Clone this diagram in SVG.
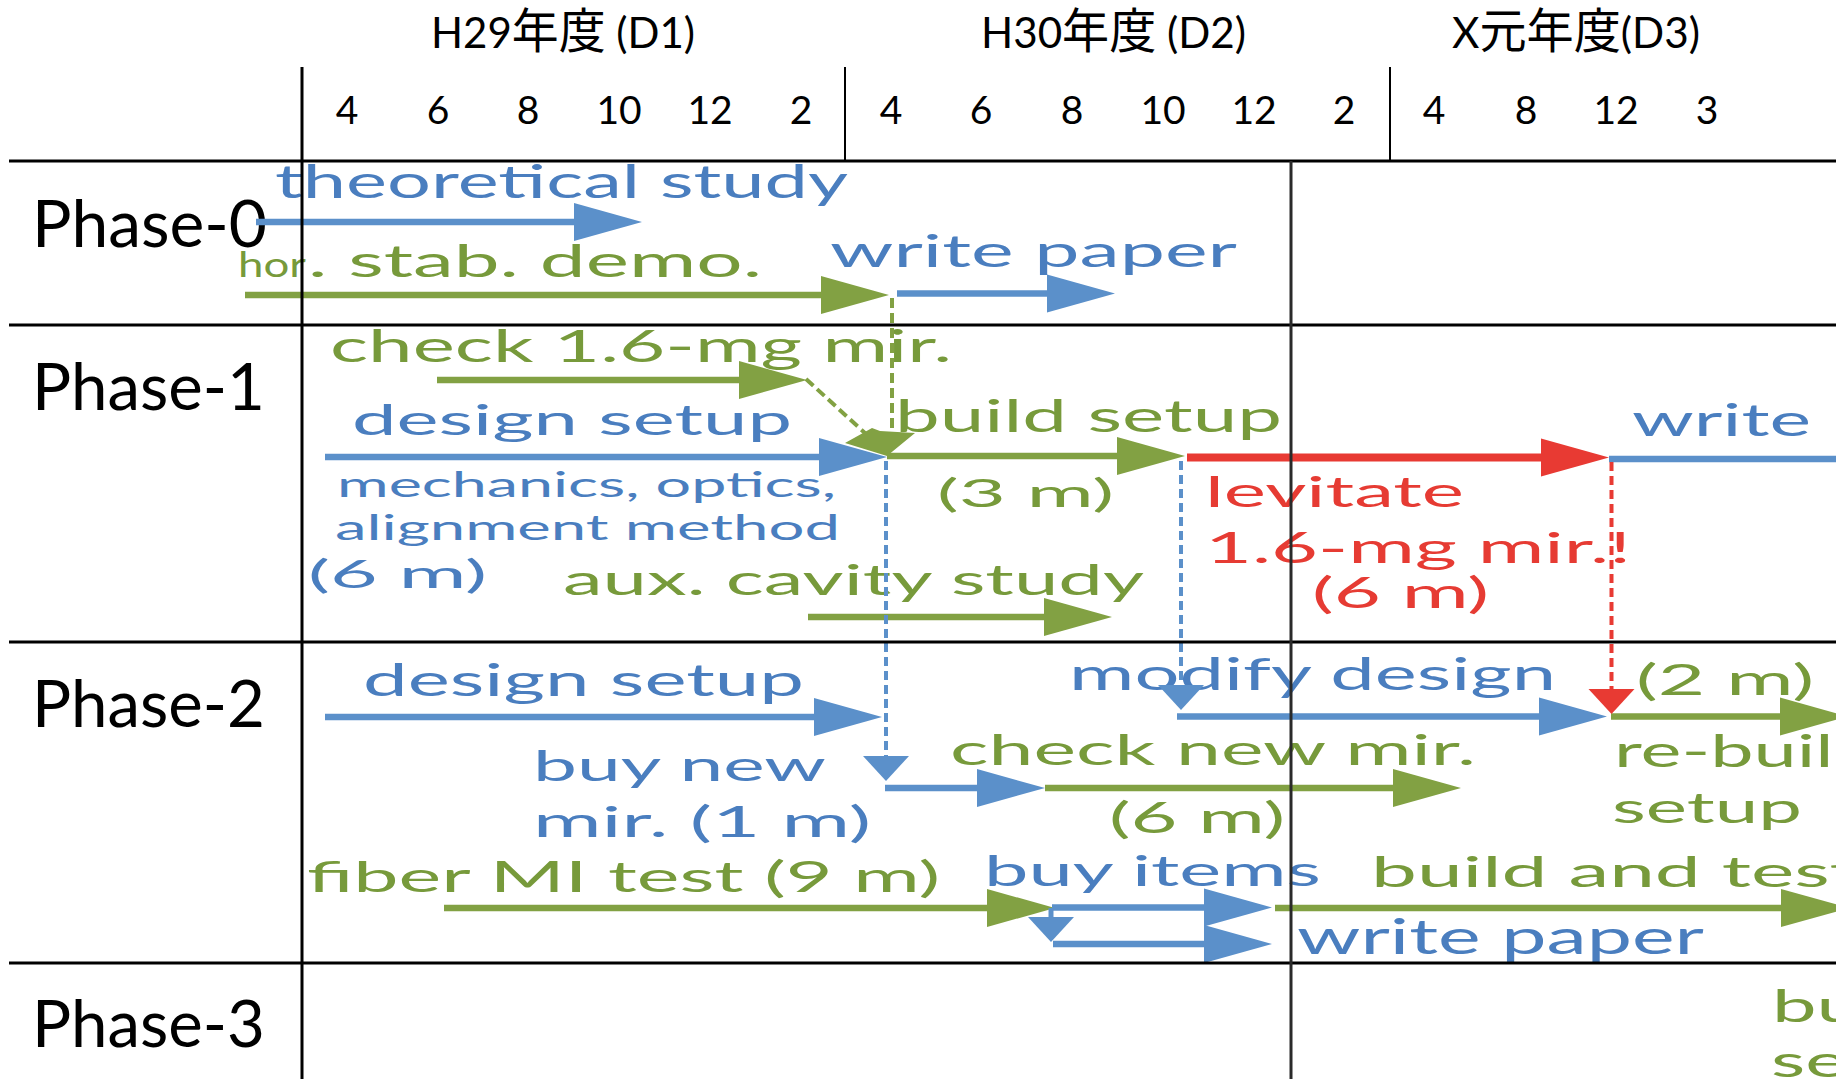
<svg xmlns="http://www.w3.org/2000/svg" width="1836" height="1079" viewBox="0 0 1836 1079">
<defs>
<style>
  .t{font-family:Lato,"Noto Sans","Noto Sans CJK JP",sans-serif}
  .k{fill:#000}
  .tb{fill:#4A7EBF}
  .tg{fill:#779A3B}
  .tr{fill:#E63B33}
  .ph{font-size:66px}
  .mo{font-size:39px;text-anchor:middle}
  .hd{font-size:43px}
  .cj{font-size:48px}
  .ln{fill:none;stroke-width:6.5}
  .sb{stroke:#5B90CA}
  .sg{stroke:#82A143}
  .sr{stroke:#E83A33}
  .dash{fill:none;stroke-width:4;stroke-dasharray:9 5}
  .grid{fill:none;stroke:#000}
</style>
<!-- large arrowheads: tip sits 66px past the path end -->
<marker id="hB" markerUnits="userSpaceOnUse" markerWidth="68" markerHeight="38" refX="2" refY="19" orient="auto" overflow="visible"><path d="M0,0 L68,19 L0,38 z" fill="#5B90CA"/></marker>
<marker id="hG" markerUnits="userSpaceOnUse" markerWidth="68" markerHeight="38" refX="2" refY="19" orient="auto" overflow="visible"><path d="M0,0 L68,19 L0,38 z" fill="#82A143"/></marker>
<marker id="hR" markerUnits="userSpaceOnUse" markerWidth="68" markerHeight="38" refX="2" refY="19" orient="auto" overflow="visible"><path d="M0,0 L68,19 L0,38 z" fill="#E83A33"/></marker>
<!-- short wide arrowheads for the drop-down links: tip 24px past the path end -->
<marker id="sB" markerUnits="userSpaceOnUse" markerWidth="25" markerHeight="46" refX="1" refY="23" orient="auto" overflow="visible"><path d="M0,0 L25,23 L0,46 z" fill="#5B90CA"/></marker>
<marker id="sR" markerUnits="userSpaceOnUse" markerWidth="25" markerHeight="46" refX="1" refY="23" orient="auto" overflow="visible"><path d="M0,0 L25,23 L0,46 z" fill="#E83A33"/></marker>
</defs>

<rect width="1836" height="1079" fill="#fff"/>

<!-- fiscal-year header -->
<g id="header" class="t k">
  <text class="hd" x="431" y="48" textLength="264" lengthAdjust="spacingAndGlyphs">H29<tspan class="cj">年度</tspan> (D1)</text>
  <text class="hd" x="981" y="48" textLength="265" lengthAdjust="spacingAndGlyphs">H30<tspan class="cj">年度</tspan> (D2)</text>
  <text class="hd" x="1452" y="48" textLength="248" lengthAdjust="spacingAndGlyphs">X<tspan class="cj">元年度</tspan>(D3)</text>
</g>

<!-- month ticks -->
<g id="months" class="t k mo">
  <text x="347" y="124">4</text>
  <text x="438" y="124">6</text>
  <text x="528" y="124">8</text>
  <text x="619" y="124">10</text>
  <text x="710" y="124">12</text>
  <text x="801" y="124">2</text>
  <text x="891" y="124">4</text>
  <text x="981" y="124">6</text>
  <text x="1072" y="124">8</text>
  <text x="1163" y="124">10</text>
  <text x="1254" y="124">12</text>
  <text x="1344" y="124">2</text>
  <text x="1434" y="124">4</text>
  <text x="1526" y="124">8</text>
  <text x="1616" y="124">12</text>
  <text x="1707" y="124">3</text>
</g>

<!-- phase row labels -->
<g id="phases" class="t k ph">
  <text x="32" y="247" textLength="235" lengthAdjust="spacingAndGlyphs">Phase-0</text>
  <text x="32" y="410" textLength="233" lengthAdjust="spacingAndGlyphs">Phase-1</text>
  <text x="32" y="727" textLength="233" lengthAdjust="spacingAndGlyphs">Phase-2</text>
  <text x="32" y="1047" textLength="233" lengthAdjust="spacingAndGlyphs">Phase-3</text>
</g>

<!-- task labels, phase 0 -->
<g id="task-theoretical-study" class="t tb"><text x="275" y="198" font-size="47" textLength="573" lengthAdjust="spacingAndGlyphs">theoretical study</text></g>
<g id="task-hor-stab-demo" class="t tg"><text y="277"><tspan x="238" font-size="34" textLength="68" lengthAdjust="spacingAndGlyphs">hor</tspan><tspan x="308" font-size="44" textLength="454" lengthAdjust="spacingAndGlyphs">. stab. demo.</tspan></text></g>
<g id="task-write-paper-0" class="t tb"><text x="830" y="267" font-size="44" textLength="407" lengthAdjust="spacingAndGlyphs">write paper</text></g>

<!-- task labels, phase 1 -->
<g id="task-check-mirror" class="t tg"><text x="330" y="362" font-size="44" textLength="622" lengthAdjust="spacingAndGlyphs">check 1.6-mg mir.</text></g>
<g id="task-design-setup-1" class="t tb">
  <text x="352" y="435" font-size="43" textLength="440" lengthAdjust="spacingAndGlyphs">design setup</text>
  <text x="337" y="497" font-size="34" textLength="499" lengthAdjust="spacingAndGlyphs">mechanics, optics,</text>
  <text x="335" y="540" font-size="34" textLength="505" lengthAdjust="spacingAndGlyphs">alignment method</text>
  <text x="308" y="588" font-size="39" textLength="179" lengthAdjust="spacingAndGlyphs">(6 m)</text>
</g>
<g id="task-aux-cavity" class="t tg"><text x="563" y="595" font-size="43" textLength="581" lengthAdjust="spacingAndGlyphs">aux. cavity study</text></g>
<g id="task-build-setup" class="t tg">
  <text x="895" y="432" font-size="44" textLength="387" lengthAdjust="spacingAndGlyphs">build setup</text>
  <text x="937" y="507" font-size="38" textLength="177" lengthAdjust="spacingAndGlyphs">(3 m)</text>
</g>
<g id="task-levitate" class="t tr">
  <text x="1205" y="507" font-size="42" textLength="259" lengthAdjust="spacingAndGlyphs">levitate</text>
  <text x="1205" y="563" font-size="42" textLength="426" lengthAdjust="spacingAndGlyphs">1.6-mg mir.!</text>
  <text x="1312" y="608" font-size="42" textLength="177" lengthAdjust="spacingAndGlyphs">(6 m)</text>
</g>
<g id="task-write-1" class="t tb"><text x="1632" y="436" font-size="44" textLength="179" lengthAdjust="spacingAndGlyphs">write</text></g>

<!-- task labels, phase 2 -->
<g id="task-design-setup-2" class="t tb"><text x="363" y="696" font-size="44" textLength="441" lengthAdjust="spacingAndGlyphs">design setup</text></g>
<g id="task-buy-mirror" class="t tb">
  <text x="533" y="781" font-size="43" textLength="293" lengthAdjust="spacingAndGlyphs">buy new</text>
  <text x="533" y="837" font-size="42" textLength="338" lengthAdjust="spacingAndGlyphs">mir. (1 m)</text>
</g>
<g id="task-check-new-mirror" class="t tg">
  <text x="950" y="765" font-size="43" textLength="526" lengthAdjust="spacingAndGlyphs">check new mir.</text>
  <text x="1109" y="833" font-size="42" textLength="176" lengthAdjust="spacingAndGlyphs">(6 m)</text>
</g>
<g id="task-modify-design" class="t tb"><text x="1069" y="690" font-size="44" textLength="487" lengthAdjust="spacingAndGlyphs">modify design</text></g>
<g id="task-rebuild-setup" class="t tg">
  <text x="1636" y="695" font-size="42" textLength="178" lengthAdjust="spacingAndGlyphs">(2 m)</text>
  <text x="1614" y="767" font-size="44" textLength="263" lengthAdjust="spacingAndGlyphs">re-build</text>
  <text x="1612" y="823" font-size="43" textLength="190" lengthAdjust="spacingAndGlyphs">setup</text>
</g>
<g id="task-fiber-mi" class="t tg"><text x="307" y="892" font-size="43" textLength="633" lengthAdjust="spacingAndGlyphs">fiber MI test (9 m)</text></g>
<g id="task-buy-items" class="t tb"><text x="984" y="886" font-size="43" textLength="337" lengthAdjust="spacingAndGlyphs">buy items</text></g>
<g id="task-build-and-test" class="t tg"><text x="1371" y="887" font-size="42" textLength="488" lengthAdjust="spacingAndGlyphs">build and test</text></g>
<g id="task-write-paper-2" class="t tb"><text x="1297" y="954" font-size="48" textLength="407" lengthAdjust="spacingAndGlyphs">write paper</text></g>

<!-- task labels, phase 3 -->
<g id="task-phase3" class="t tg">
  <text x="1772" y="1022" font-size="44" textLength="89" lengthAdjust="spacingAndGlyphs">bu</text>
  <text x="1771" y="1077" font-size="45" textLength="76" lengthAdjust="spacingAndGlyphs">se</text>
</g>

<!-- schedule arrows and dependency links -->
<g id="connectors">
  <path class="ln sb" d="M256,222 H576" marker-end="url(#hB)"/>
  <path class="ln sg" d="M245,295 H823" marker-end="url(#hG)"/>
  <path class="ln sb" d="M897,293.5 H1049" marker-end="url(#hB)"/>
  <path class="ln sg" d="M437,380 H741" marker-end="url(#hG)"/>
  <path class="ln sb" d="M325,457 H821" marker-end="url(#hB)"/>
  <path class="ln sg" d="M887,456 H1119" marker-end="url(#hG)"/>
  <path class="ln sr" style="stroke-width:8" d="M1187,457.5 H1543" marker-end="url(#hR)"/>
  <path class="ln sb" d="M1609,459 H1836"/>
  <path class="ln sg" d="M808,617 H1046" marker-end="url(#hG)"/>
  <path class="ln sb" d="M325,717 H816" marker-end="url(#hB)"/>
  <path class="ln sb" d="M885,788 H979" marker-end="url(#hB)"/>
  <path class="ln sg" d="M1045,788 H1395" marker-end="url(#hG)"/>
  <path class="ln sb" d="M1177,716.5 H1541" marker-end="url(#hB)"/>
  <path class="ln sg" d="M1611,716.5 H1782" marker-end="url(#hG)"/>
  <path class="ln sg" d="M444,908 H989" marker-end="url(#hG)"/>
  <path class="ln sb" d="M1052,907.5 H1206" marker-end="url(#hB)"/>
  <path class="ln sb" style="stroke-width:5" d="M1051,908 V918" marker-end="url(#sB)"/>
  <path class="ln sb" d="M1053,944 H1206" marker-end="url(#hB)"/>
  <path class="ln sg" d="M1275,908 H1783" marker-end="url(#hG)"/>

  <!-- dashed dependency links -->
  <path class="dash sg" style="stroke-dasharray:10 5" d="M892,298 V432"/>
  <path class="dash sg" style="stroke-dasharray:10 5" d="M806,379 L866,434"/>
  <polygon points="845,443 872,428 880,431 915,433 887,456" fill="#82A143"/>
  <path class="dash sb" d="M886,461 V757" marker-end="url(#sB)"/>
  <path class="dash sb" d="M1181,461 V686" marker-end="url(#sB)"/>
  <path class="dash sr" d="M1611.5,462 V690" marker-end="url(#sR)"/>
</g>

<!-- table rules -->
<g id="grid" class="grid">
  <path stroke-width="3" d="M9,161 H1836 M9,325 H1836 M9,642 H1836 M9,963 H1836"/>
  <path stroke-width="3" d="M302,67 V1079"/>
  <path stroke-width="2" d="M845,67 V161 M1390,67 V161"/>
  <path stroke-width="3" stroke="#2a2a2a" d="M1291,161 V1079"/>
</g>
</svg>
